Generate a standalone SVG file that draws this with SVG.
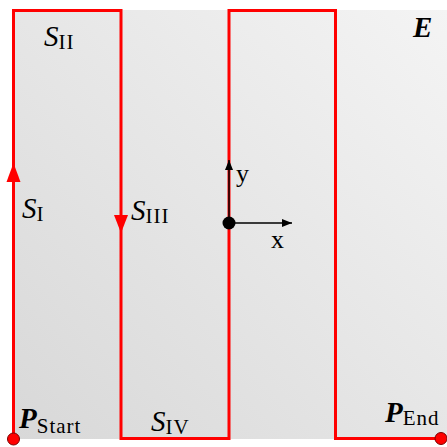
<svg xmlns="http://www.w3.org/2000/svg" width="447" height="447" viewBox="0 0 447 447">
<defs>
<linearGradient id="bg" x1="0" y1="1" x2="1" y2="0">
<stop offset="0" stop-color="#d8d8d8"/>
<stop offset="1" stop-color="#f4f4f4"/>
</linearGradient>
<marker id="ah" viewBox="0 0 10 8" refX="10" refY="4" markerWidth="10" markerHeight="8" markerUnits="userSpaceOnUse" orient="auto">
<path d="M0,0 L10,4 L0,8 Z" fill="#000"/>
</marker>
<style>
.lbl{font-family:"Liberation Serif","DejaVu Serif",serif;fill:#000}
.it{font-style:italic}
.bi{font-style:italic;font-weight:bold}
.sub{font-size:21px;letter-spacing:1px}
.path{fill:none;stroke:#ff0000;stroke-width:3}
.arr{fill:#ff0000}
.axis{stroke:#000;stroke-width:1.5;fill:none}
</style>
</defs>
<rect x="13" y="10" width="434" height="429" fill="url(#bg)"/>
<g id="connectors">
<path class="path" d="M13.5,439 L13.5,10.5 L121,10.5 L121,438.5 L229,438.5 L229,10.5 L335.5,10.5 L335.5,438.5 L441,438.5"/>
<path class="arr" d="M13.5,163 L20.5,182 L6.5,182 Z"/>
<path class="arr" d="M121,233 L114,215 L128,215 Z"/>
<line class="axis" x1="229" y1="223" x2="229" y2="160" marker-end="url(#ah)"/>
<line class="axis" x1="229" y1="223" x2="292" y2="223" marker-end="url(#ah)"/>
</g>
<g id="origin"><circle cx="229" cy="223" r="6.5" fill="#000"/></g>
<g id="start"><circle cx="13.5" cy="439" r="6" fill="#ff0000" stroke="#7a0000" stroke-width="1"/></g>
<g id="end"><circle cx="441" cy="438.5" r="6" fill="#ff0000" stroke="#7a0000" stroke-width="1"/></g>
<g id="labels">
<text class="lbl" x="44" y="46" font-size="29"><tspan class="it">S</tspan><tspan class="sub" dy="3">II</tspan></text>
<text class="lbl" x="22" y="218" font-size="29"><tspan class="it">S</tspan><tspan class="sub" dy="3">I</tspan></text>
<text class="lbl" x="131" y="220" font-size="29"><tspan class="it">S</tspan><tspan class="sub" dy="3">III</tspan></text>
<text class="lbl" x="151" y="431" font-size="29"><tspan class="it">S</tspan><tspan class="sub" dy="3">IV</tspan></text>
<text class="lbl" x="19" y="428" font-size="29"><tspan class="bi">P</tspan><tspan class="sub" dy="5">Start</tspan></text>
<text class="lbl" x="385" y="422" font-size="29"><tspan class="bi">P</tspan><tspan class="sub" dy="3" letter-spacing="0">End</tspan></text>
<text class="lbl bi" x="413" y="37" font-size="29">E</text>
<text class="lbl" x="236" y="182" font-size="26">y</text>
<text class="lbl" x="271" y="248" font-size="26">x</text>
</g>
</svg>
